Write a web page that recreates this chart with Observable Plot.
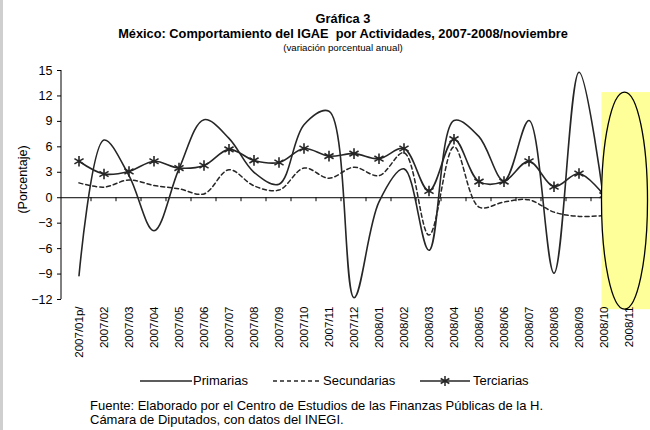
<!DOCTYPE html>
<html><head><meta charset="utf-8">
<script src="https://cdn.jsdelivr.net/npm/d3@7"></script>
<script src="https://cdn.jsdelivr.net/npm/@observablehq/plot@0.6"></script>
<style>
body{margin:0;background:#fff;font-family:"Liberation Sans",Arial,sans-serif;color:#000;}
#wrap{position:relative;width:650px;height:430px;overflow:hidden;background:#fff;}
#chart{position:absolute;left:0;top:0;}
.t{position:absolute;left:0;width:686px;text-align:center;white-space:nowrap;}
.b{font-weight:bold;font-size:12.8px;line-height:13px;}
.s{font-size:9.7px;line-height:11px;}
.lg{position:absolute;font-size:13px;line-height:16px;white-space:nowrap;}
.ft{position:absolute;left:90px;font-size:13px;line-height:14px;white-space:nowrap;}
#edge{position:absolute;left:0;top:0;width:3px;height:430px;background:#cfcfcf;}
</style></head><body>
<div id="wrap">
  <div id="chart"></div>
  <div class="t b" style="top:12px">Gráfica 3</div>
  <div class="t b" style="top:27px">México: Comportamiento del IGAE&nbsp; por Actividades, 2007-2008/noviembre</div>
  <div class="t s" style="top:42px">(variación porcentual anual)</div>
  <div id="legend"></div>
  <div class="ft" style="top:399px">Fuente: Elaborado por el Centro de Estudios de las Finanzas Públicas de la H.</div>
  <div class="ft" style="top:413px">Cámara de Diputados, con datos del INEGI.</div>
  <div id="edge"></div>
</div>
<script>
// ---- data ----
const months = ["2007/01p/","2007/02","2007/03","2007/04","2007/05","2007/06","2007/07","2007/08","2007/09","2007/10","2007/11","2007/12",
  "2008/01","2008/02","2008/03","2008/04","2008/05","2008/06","2008/07","2008/08","2008/09","2008/10","2008/11"];
const primarias   = [-9.2, 6.8, 2.6, -3.9, 3.4, 9.2, 7.0, 3.0, 1.6, 8.6, 10.2, -11.8, -0.5, 3.4, -6.2, 9.1, 7.2, 2.0, 9.1, -8.9, 14.8, -0.5];
const secundarias = [1.75, 1.25, 2.1, 1.45, 1.05, 0.45, 3.3, 1.4, 0.9, 3.5, 2.3, 3.6, 2.6, 5.3, -4.4, 6.0, -1.1, -0.5, -0.25, -1.7, -2.2, -2.1];
const terciarias  = [4.3, 2.8, 3.1, 4.3, 3.5, 3.8, 5.7, 4.4, 4.15, 5.8, 4.9, 5.2, 4.6, 5.8, 0.8, 6.9, 1.9, 1.9, 4.3, 1.3, 2.85, 0.3];
const seriesNames = ["Primarias","Secundarias","Terciarias"];
const yTicks = [15, 12, 9, 6, 3, 0, -3, -6, -9, -12];
const yDomain = [-12, 15];
const yTitle = "(Porcentaje)";
// highlighted (pending) month
const highlightFrom = "2008/10", highlightAt = "2008/11";
const highlightTop = 12.4, highlightBottom = -13.2;

const toRows = arr => arr.map((v, i) => ({month: months[i], value: v}));
const rowsP = toRows(primarias), rowsS = toRows(secundarias), rowsT = toRows(terciarias);

const ink = "#262626";
const font = "Liberation Sans, Arial, sans-serif";

function decorations(index, scales, values, dim) {
  const xs = scales.x, ys = scales.y;
  const g = d3.create("svg:g");
  const y0 = ys(0);
  months.forEach((m, i) => {
    if (i === 0) return;
    const bx = xs(m);
    g.append("line").attr("x1", bx).attr("x2", bx).attr("y1", y0).attr("y2", y0 + 4).attr("stroke", "#000");
  });
  g.append("line").attr("x1", dim.marginLeft).attr("x2", dim.marginLeft)
    .attr("y1", ys(yDomain[1])).attr("y2", ys(yDomain[0])).attr("stroke", "#000");
  g.append("text").attr("transform", `translate(${dim.marginLeft - 37},${(ys(yDomain[1]) + ys(yDomain[0])) / 2 - 5}) rotate(-90)`)
    .attr("text-anchor", "middle").attr("dominant-baseline", "middle")
    .attr("font-size", 12.5).attr("font-family", font).attr("fill", "#000").text(yTitle);
  return g.node();
}

function highlight(index, scales, values, dim) {
  const xs = scales.x, ys = scales.y, bw = xs.bandwidth();
  const g = d3.create("svg:g");
  const left = xs(highlightFrom) + bw / 2 - 2;
  const top = ys(highlightTop), bottom = ys(highlightBottom);
  g.append("rect").attr("x", left).attr("y", top).attr("width", dim.width - left).attr("height", bottom - top)
    .attr("fill", "#ffff99");
  const cx = xs(highlightAt) + bw / 2 - 4;
  g.append("ellipse").attr("cx", cx).attr("cy", (top + bottom) / 2).attr("rx", cx - left).attr("ry", (bottom - top) / 2)
    .attr("fill", "none").attr("stroke", "#000").attr("stroke-width", 1.3);
  return g.node();
}

const chart = Plot.plot({
  width: 650, height: 370,
  marginLeft: 61, marginRight: 4, marginTop: 70, marginBottom: 71,
  style: {fontFamily: font, background: "transparent", overflow: "visible", color: "#000"},
  x: {type: "band", domain: months, padding: 0, label: null},
  y: {domain: yDomain, label: null},
  marks: [
    Plot.ruleY([0], {stroke: "#000"}),
    decorations,
    Plot.line(rowsP, {x: "month", y: "value", curve: "catmull-rom", stroke: ink, strokeWidth: 1.6}),
    Plot.line(rowsS, {x: "month", y: "value", curve: "catmull-rom", stroke: ink, strokeWidth: 1.5, strokeDasharray: "4,3"}),
    Plot.line(rowsT, {x: "month", y: "value", curve: "catmull-rom", stroke: ink, strokeWidth: 1.6}),
    Plot.dot(rowsT, {x: "month", y: "value", symbol: "asterisk", r: 5, stroke: ink, strokeWidth: 1.6}),
    highlight,
    Plot.axisY({ticks: yTicks, tickSize: 4, tickPadding: 5, fontSize: 12.5, label: null, stroke: "#000"}),
    Plot.axisX({tickSize: 0, tickPadding: 7, tickRotate: -90, fontSize: 11.5, label: null})
  ]
});
document.getElementById("chart").appendChild(chart);

// legend (below the plot)
const lg = document.getElementById("legend");
const legendItems = [
  {name: seriesNames[0], sx: 140, sw: 52, tx: 193, dash: null, star: false},
  {name: seriesNames[1], sx: 273, sw: 49, tx: 323, dash: "4,3", star: false},
  {name: seriesNames[2], sx: 420, sw: 50, tx: 473, dash: null, star: true}
];
const ly = 381;
legendItems.forEach(it => {
  const s = d3.create("svg").attr("width", it.sw).attr("height", 12)
    .style("position", "absolute").style("left", it.sx + "px").style("top", (ly - 6) + "px");
  s.append("line").attr("x1", 0).attr("x2", it.sw).attr("y1", 6).attr("y2", 6)
    .attr("stroke", ink).attr("stroke-width", 1.4).attr("stroke-dasharray", it.dash);
  if (it.star) s.append("path").attr("transform", `translate(${it.sw / 2},6)`)
    .attr("d", d3.symbol(d3.symbolAsterisk, 70)()).attr("stroke", ink).attr("stroke-width", 1.5).attr("fill", "none");
  lg.appendChild(s.node());
  const t = document.createElement("div");
  t.className = "lg"; t.style.left = it.tx + "px"; t.style.top = (ly - 8) + "px"; t.textContent = it.name;
  lg.appendChild(t);
});
</script>
</body></html>
